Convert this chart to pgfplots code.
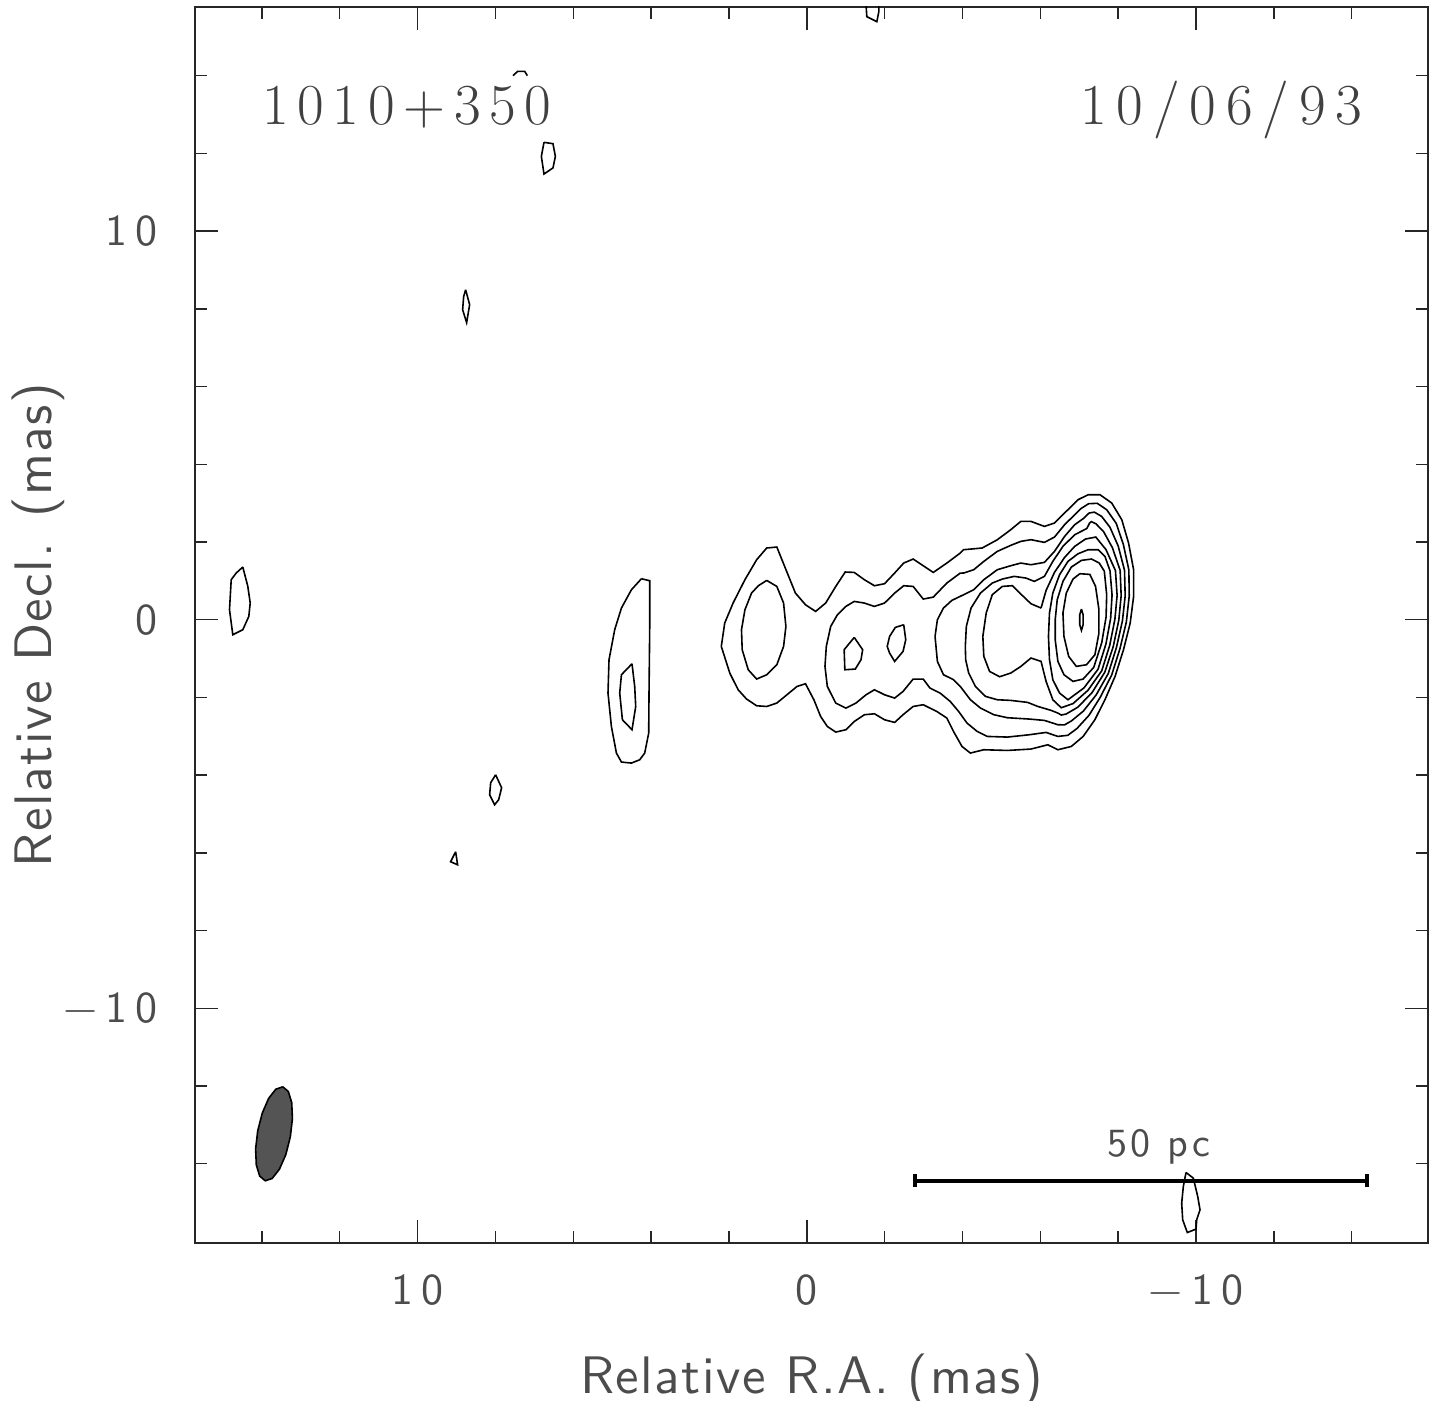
\documentclass[border=0pt]{standalone}
\usepackage{fontspec}
\setsansfont{lmsans10-regular.otf}
\newfontfamily\titlefont{lmroman17-regular.otf}
\usepackage{pgfplots}
\pgfplotsset{compat=1.18}
\pgfplotsset{ctr/.style={black, line width=0.4pt, mark=none}}
\begin{document}
\begin{tikzpicture}
\begin{axis}[
 at={(0,0)}, anchor=south west,
 width=308.25pt, height=309pt, scale only axis,
 x dir=reverse,
 xmin=-15.96, xmax=15.72, ymin=-16.04, ymax=15.77,
 xtick={-10,0,10}, xticklabels={−10,0,10},
 ytick={-10,0,10}, yticklabels={−10,0,10},
 minor xtick={-14,-12,...,14}, minor ytick={-14,-12,...,14},
 major tick length=5.7pt, minor tick length=3pt,
 tick style={black!85, line width=0.35pt},
 axis line style={black!85, line width=0.35pt},
 tick label style={font=\sffamily\fontsize{11}{13}\selectfont\addfontfeature{LetterSpace=18}, text=black!70},
 xticklabel style={anchor=base, yshift=-15.5pt},
 yticklabel style={anchor=east, xshift=-5.8pt},
 xlabel={Relative R.A. (mas)}, ylabel={Relative Decl. (mas)},
 label style={font=\sffamily\fontsize{13.2}{15}\selectfont\addfontfeature{LetterSpace=3}, text=black!70},
 xlabel style={at={(axis description cs:0.5,-0.1214)}, anchor=base, inner sep=0pt},
 ylabel style={at={(axis description cs:-0.116,0.5)}, anchor=base, inner sep=0pt},
 clip=true,
]
% outermost contour
\addplot[ctr] coordinates {(2.197,-0.687) (2.109,-0.085) (1.894,0.430) (1.590,1.030) (1.289,1.544) (1.030,1.846) (0.770,1.871) (0.553,1.331) (0.293,0.687) (0.034,0.386) (-0.226,0.214) (-0.485,0.430) (-0.744,0.857) (-0.986,1.228) (-1.219,1.218) (-1.479,1.030) (-1.738,0.875) (-1.997,0.927) (-2.257,1.202) (-2.490,1.459) (-2.732,1.562) (-2.991,1.390) (-3.250,1.218) (-3.598,1.459) (-3.943,1.717) (-4.029,1.802) (-4.506,1.846) (-4.895,2.059) (-5.240,2.317) (-5.499,2.531) (-5.759,2.531) (-6.104,2.402) (-6.363,2.489) (-6.623,2.747) (-6.970,3.089) (-7.229,3.218) (-7.531,3.218) (-7.834,3.004) (-8.093,2.574) (-8.267,1.974) (-8.397,1.287) (-8.397,0.600) (-8.309,-0.085) (-8.137,-0.772) (-7.920,-1.459) (-7.660,-2.059) (-7.401,-2.574) (-7.100,-3.004) (-6.796,-3.261) (-6.451,-3.346) (-6.192,-3.218) (-5.759,-3.328) (-5.154,-3.364) (-4.547,-3.346) (-4.202,-3.431) (-3.987,-3.261) (-3.769,-2.875) (-3.598,-2.530) (-3.339,-2.360) (-2.991,-2.188) (-2.732,-2.232) (-2.472,-2.445) (-2.257,-2.643) (-1.997,-2.574) (-1.738,-2.420) (-1.479,-2.445) (-1.219,-2.618) (-1.004,-2.831) (-0.744,-2.891) (-0.527,-2.746) (-0.355,-2.489) (-0.182,-2.059) (0.034,-1.647) (0.252,-1.717) (0.511,-1.931) (0.770,-2.144) (1.030,-2.232) (1.289,-2.214) (1.549,-2.041) (1.764,-1.802) (1.979,-1.372) (2.197,-0.687)};
% left blob inner
\addplot[ctr] coordinates {(1.030,1.012) (0.770,0.857) (0.597,0.430) (0.537,-0.172) (0.597,-0.687) (0.770,-1.158) (1.030,-1.416) (1.289,-1.526) (1.505,-1.287) (1.660,-0.772) (1.678,-0.257) (1.590,0.257) (1.419,0.687) (1.245,0.875) (1.030,1.012)};
% level 2
\addplot[ctr] coordinates {(-1.003,0.343) (-1.219,0.472) (-1.478,0.429) (-1.738,0.343) (-1.997,0.429) (-2.257,0.686) (-2.490,0.875) (-2.732,0.858) (-2.992,0.532) (-3.251,0.583) (-3.597,0.944) (-3.943,1.201) (-4.030,1.202) (-4.289,1.287) (-4.548,1.502) (-4.894,1.759) (-5.240,1.914) (-5.500,2.017) (-5.759,2.060) (-6.105,1.991) (-6.364,2.128) (-6.624,2.446) (-7.040,2.858) (-7.241,2.986) (-7.462,2.997) (-7.705,2.832) (-7.949,2.482) (-8.134,1.935) (-8.275,1.281) (-8.284,0.608) (-8.210,-0.060) (-8.046,-0.743) (-7.834,-1.421) (-7.541,-1.992) (-7.250,-2.460) (-6.944,-2.797) (-6.706,-2.974) (-6.451,-3.003) (-6.148,-2.900) (-5.716,-2.960) (-5.154,-3.020) (-4.635,-3.003) (-4.376,-2.874) (-4.116,-2.659) (-3.900,-2.359) (-3.684,-2.102) (-3.424,-1.887) (-3.165,-1.759) (-2.991,-1.527) (-2.732,-1.527) (-2.473,-1.845) (-2.257,-2.017) (-1.997,-1.931) (-1.738,-1.802) (-1.522,-1.931) (-1.262,-2.145) (-1.003,-2.274) (-0.743,-2.145) (-0.527,-1.716) (-0.467,-1.201) (-0.501,-0.687) (-0.614,-0.172) (-0.787,0.129) (-1.003,0.343)};
% level 3 islands
\addplot[ctr] coordinates {(-1.219,-0.455) (-1.435,-0.772) (-1.392,-1.030) (-1.245,-1.270) (-0.977,-1.287) (-0.960,-0.772) (-1.063,-0.644) (-1.219,-0.455)};
\addplot[ctr] coordinates {(-2.490,-0.129) (-2.542,-0.515) (-2.473,-0.815) (-2.257,-1.073) (-2.127,-0.858) (-2.066,-0.687) (-2.127,-0.429) (-2.274,-0.198) (-2.490,-0.129)};
% level 3
\addplot[ctr] coordinates {(-3.295,-0.429) (-3.355,0) (-3.511,0.301) (-3.727,0.498) (-4.030,0.644) (-4.289,0.773) (-4.548,1.030) (-4.894,1.287) (-5.240,1.390) (-5.500,1.459) (-5.759,1.416) (-6.105,1.476) (-6.364,1.759) (-6.624,2.145) (-6.883,2.446) (-7.115,2.611) (-7.253,2.746) (-7.389,2.769) (-7.575,2.660) (-7.789,2.380) (-8.001,1.897) (-8.163,1.275) (-8.180,0.614) (-8.108,-0.036) (-7.956,-0.713) (-7.746,-1.384) (-7.436,-1.933) (-7.105,-2.352) (-6.798,-2.605) (-6.620,-2.706) (-6.451,-2.702) (-6.105,-2.591) (-5.716,-2.556) (-5.154,-2.522) (-4.808,-2.445) (-4.462,-2.273) (-4.203,-2.059) (-3.943,-1.716) (-3.770,-1.544) (-3.511,-1.415) (-3.355,-1.072) (-3.295,-0.429)};
% level 4
\addplot[ctr] coordinates {(-4.073,-0.686) (-4.099,-0.171) (-4.220,0.301) (-4.462,0.687) (-4.765,0.944) (-5.024,1.047) (-5.327,1.116) (-5.629,1.073) (-5.846,0.987) (-6.105,1.116) (-6.321,1.502) (-6.581,1.888) (-6.883,2.188) (-7.195,2.348) (-7.266,2.489) (-7.311,2.525) (-7.430,2.468) (-7.622,2.273) (-7.852,1.854) (-8.051,1.270) (-8.077,0.620) (-8.016,-0.013) (-7.874,-0.687) (-7.658,-1.348) (-7.330,-1.873) (-6.966,-2.249) (-6.664,-2.426) (-6.540,-2.453) (-6.451,-2.402) (-6.278,-2.333) (-5.932,-2.230) (-5.673,-2.127) (-5.240,-2.076) (-4.894,-2.059) (-4.592,-1.973) (-4.332,-1.716) (-4.159,-1.372) (-4.082,-1.029) (-4.073,-0.686)};
% level 5
\addplot[ctr] coordinates {(-6.019,0.301) (-5.759,0.412) (-5.517,0.644) (-5.284,0.876) (-5.024,0.858) (-4.765,0.644) (-4.609,0.172) (-4.523,-0.429) (-4.548,-0.943) (-4.696,-1.330) (-4.955,-1.467) (-5.240,-1.372) (-5.500,-1.201) (-5.759,-0.986) (-6.019,-1.072) (-6.148,-1.587) (-6.321,-2.059) (-6.537,-2.265) (-6.842,-2.157) (-7.225,-1.815) (-7.578,-1.314) (-7.783,-0.658) (-7.916,0.012) (-7.973,0.627) (-7.930,1.264) (-7.686,1.806) (-7.425,2.128) (-7.160,2.077) (-6.883,1.888) (-6.624,1.605) (-6.364,1.219) (-6.148,0.755) (-6.019,0.301)};
% level 6
\addplot[ctr] coordinates {(-7.791,1.257) (-7.843,0.634) (-7.807,0.038) (-7.685,-0.626) (-7.483,-1.274) (-7.120,-1.756) (-6.710,-2.059) (-6.494,-1.887) (-6.321,-1.544) (-6.235,-1.029) (-6.209,-0.429) (-6.235,0.172) (-6.321,0.687) (-6.494,1.159) (-6.710,1.502) (-6.970,1.699) (-7.229,1.802) (-7.489,1.802) (-7.661,1.631) (-7.791,1.257)};
% level 7
\addplot[ctr] coordinates {(-7.644,1.250) (-7.705,0.642) (-7.689,0.067) (-7.578,-0.591) (-7.372,-1.227) (-7.099,-1.527) (-6.840,-1.587) (-6.607,-1.415) (-6.451,-1.072) (-6.382,-0.514) (-6.382,0) (-6.434,0.515) (-6.581,0.987) (-6.797,1.356) (-7.056,1.528) (-7.316,1.562) (-7.514,1.459) (-7.644,1.250)};
% level 8
\addplot[ctr] coordinates {(-7.013,1.184) (-7.272,1.167) (-7.419,0.858) (-7.506,0.258) (-7.506,-0.343) (-7.402,-0.901) (-7.186,-1.158) (-6.926,-1.201) (-6.728,-0.943) (-6.607,-0.429) (-6.581,0.172) (-6.667,0.687) (-6.840,1.047) (-7.013,1.184)};
% peak
\addplot[ctr] coordinates {(-7.056,0.275) (-7.099,0.129) (-7.099,-0.129) (-7.056,-0.274) (-7.013,-0.129) (-7.013,0.129) (-7.056,0.275)};
% ridge east of core
\addplot[ctr] coordinates {(4.249,1.055) (4.036,1.004) (4.036,-0.172) (4.054,-1.887) (4.062,-2.916) (4.165,-3.431) (4.293,-3.604) (4.506,-3.689) (4.763,-3.663) (4.892,-3.431) (5.021,-2.746) (5.108,-1.887) (5.082,-1.030) (4.936,-0.257) (4.763,0.301) (4.506,0.772) (4.249,1.055)};
\addplot[ctr] coordinates {(4.491,-1.133) (4.422,-1.717) (4.396,-2.232) (4.491,-2.831) (4.738,-2.574) (4.807,-1.887) (4.763,-1.416) (4.491,-1.133)};
% left-edge blob
\addplot[ctr] coordinates {(14.491,1.356) (14.362,0.857) (14.301,0.430) (14.337,0.085) (14.491,-0.257) (14.748,-0.386) (14.833,0.257) (14.789,1.030) (14.661,1.202) (14.491,1.356)};
% small isolated contours
\addplot[ctr] coordinates {(8.766,8.494) (8.663,8.108) (8.740,7.645) (8.843,7.979) (8.817,8.314) (8.766,8.494)};
\addplot[ctr] coordinates {(7.995,-3.990) (7.841,-4.324) (7.918,-4.633) (8.021,-4.762) (8.149,-4.505) (8.123,-4.196) (7.995,-3.990)};
\addplot[ctr] coordinates {(9.023,-5.972) (8.972,-6.306) (9.152,-6.229) (9.023,-5.972)};
\addplot[ctr] coordinates {(6.753,12.286) (6.522,12.252) (6.460,11.925) (6.522,11.627) (6.753,11.472) (6.820,11.925) (6.753,12.286)};
\addplot[ctr] coordinates {(7.550,14.003) (7.429,14.113) (7.249,14.113) (7.180,14.003)};
\addplot[ctr] coordinates {(-1.517,15.90) (-1.542,15.521) (-1.799,15.392) (-1.851,15.650) (-1.851,15.90)};
\addplot[ctr] coordinates {(-9.743,-14.226) (-9.931,-14.371) (-10.044,-14.844) (-10.103,-15.187) (-10.018,-15.444) (-10.000,-15.683) (-9.776,-15.771) (-9.658,-15.444) (-9.632,-15.014) (-9.674,-14.587) (-9.743,-14.226)};
% beam
\addplot[fill=black!67, draw=black, line width=0.4pt] coordinates {(13.465,-12.021) (13.321,-12.141) (13.234,-12.430) (13.216,-12.839) (13.270,-13.308) (13.386,-13.766) (13.550,-14.141) (13.735,-14.378) (13.913,-14.440) (14.057,-14.319) (14.144,-14.031) (14.162,-13.622) (14.108,-13.153) (13.990,-12.695) (13.828,-12.319) (13.643,-12.082) (13.465,-12.021)};
% scale bar
\addplot[black, line width=0.9pt, mark=|, mark size=1.6pt, mark options={line width=0.9pt}] coordinates {(-2.776,-14.44) (-14.396,-14.44)};
\node[anchor=base, inner sep=0pt, font=\sffamily\fontsize{10}{12}\selectfont\addfontfeature{LetterSpace=8}, text=black!70] at (axis cs:-9.049,-13.82) {50 pc};
\node[anchor=base west, inner sep=0pt, font=\titlefont\fontsize{14.5}{17}\selectfont\addfontfeature{LetterSpace=15}, text=black!75] at (axis cs:14.01,12.74) {1010+350};
\node[anchor=base east, inner sep=0pt, font=\titlefont\fontsize{14.5}{17}\selectfont\addfontfeature{LetterSpace=17}, text=black!75] at (axis cs:-14.29,12.74) {10/06/93};
\end{axis}
\pgfresetboundingbox
\path[use as bounding box] (-48.75pt,-39.5pt) rectangle (310.5pt,310.75pt);
\end{tikzpicture}
\end{document}
